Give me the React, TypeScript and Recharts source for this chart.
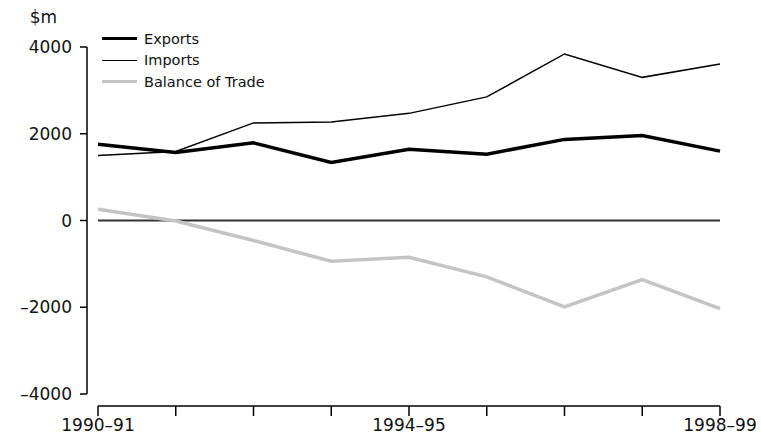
import { LineChart, Line, XAxis, YAxis, ReferenceLine, Label } from "recharts";

const years = ["1990–91", "1991–92", "1992–93", "1993–94", "1994–95", "1995–96", "1996–97", "1997–98", "1998–99"];
const exportsVals = [1760, 1570, 1790, 1340, 1640, 1530, 1870, 1960, 1600];
const importsVals = [1500, 1590, 2250, 2270, 2470, 2850, 3840, 3300, 3610];
const balanceVals = [260, -10, -460, -940, -850, -1300, -1990, -1360, -2030];
const yTicks = [-4000, -2000, 0, 2000, 4000];
const xTickLabels = ["1990–91", "1994–95", "1998–99"];

const data = years.map((y, i) => ({
  year: y,
  exports: exportsVals[i],
  imports: importsVals[i],
  balance: balanceVals[i],
}));

const FONT = "'DejaVu Sans', sans-serif";

// layout
const TOP = 47;
const X_AXIS_H = 28;
const CHART_H = 434;
const Y_PAD_BOTTOM = 12;
const PLOT_H = CHART_H - TOP - X_AXIS_H;
// value at the x-axis line (below the -4000 tick by the padding)
const yMin = yTicks[0];
const yMax = yTicks[yTicks.length - 1];
const axisValue = yMin - (Y_PAD_BOTTOM / (PLOT_H - Y_PAD_BOTTOM)) * (yMax - yMin);

const series = [
  { key: "exports", name: "Exports", color: "#000000", width: 3.5 },
  { key: "imports", name: "Imports", color: "#000000", width: 1.5 },
  { key: "balance", name: "Balance of Trade", color: "#c4c4c4", width: 3.5 },
];

const LegendBox = () => (
  <div style={{ position: "absolute", left: 102, top: 28, fontFamily: FONT, fontSize: "14.5px", color: "#111" }}>
    {series.map(s => (
      <div key={s.key} style={{ display: "flex", alignItems: "center", height: "21.5px" }}>
        <div style={{ width: "35px", height: 0, borderTop: `${s.width}px solid ${s.color}`, marginRight: "7px" }} />
        <span>{s.name}</span>
      </div>
    ))}
  </div>
);

const XTick = (props: any) => {
  const { x, y, payload } = props;
  const show = xTickLabels.includes(payload.value);
  return (
    <g>
      <line x1={x} x2={x} y1={y} y2={y + 10} stroke="#000" strokeWidth={1.5} />
      {show && (
        <text x={x} y={y + 25} textAnchor="middle" fontFamily={FONT} fontSize={17} fill="#111">{payload.value}</text>
      )}
    </g>
  );
};

export default function App() {
  return (
    <div style={{ position: "absolute", left: 0, top: 0, width: 761, height: 434, background: "#fff" }}>
      <LineChart width={761} height={CHART_H} data={data} margin={{ top: TOP, right: 41, bottom: 0, left: 0 }}>
        <XAxis dataKey="year" padding={{ left: 11, right: 0 }} axisLine={false} tickLine={false} tickSize={0} tickMargin={0} interval={0} height={X_AXIS_H} tick={<XTick />} />
        <XAxis xAxisId="aux" type="number" domain={[0, 1]} hide />
        <YAxis
          domain={[yMin, yMax]}
          ticks={yTicks}
          width={87}
          padding={{ top: 0, bottom: Y_PAD_BOTTOM }}
          axisLine={false}
          tickSize={7}
          tickMargin={8}
          tickLine={{ stroke: "#000", strokeWidth: 1.5 }}
          tick={{ fontFamily: FONT, fontSize: 17, fill: "#111" }}
          tickFormatter={(v: number) => (v < 0 ? `\u2013${Math.abs(v)}` : `${v}`)}
        >
          <Label value="$m" position="top" offset={24} style={{ fontFamily: FONT, fontSize: 17, fill: "#111" }} />
        </YAxis>
        <ReferenceLine xAxisId="aux" ifOverflow="visible" segment={[{ x: 0, y: yMin }, { x: 0, y: yMax }]} stroke="#000" strokeWidth={1.5} />
        <ReferenceLine ifOverflow="visible" segment={[{ x: years[0], y: axisValue }, { x: years[years.length - 1], y: axisValue }]} stroke="#000" strokeWidth={1.5} />
        <ReferenceLine ifOverflow="visible" segment={[{ x: years[0], y: 0 }, { x: years[years.length - 1], y: 0 }]} stroke="#333" strokeWidth={2} />
        {series.map(s => (
          <Line
            key={s.key}
            type="linear"
            dataKey={s.key}
            name={s.name}
            stroke={s.color}
            strokeWidth={s.width}
            dot={false}
            activeDot={false}
            isAnimationActive={false}
          />
        ))}
      </LineChart>
      <LegendBox />
    </div>
  );
}
